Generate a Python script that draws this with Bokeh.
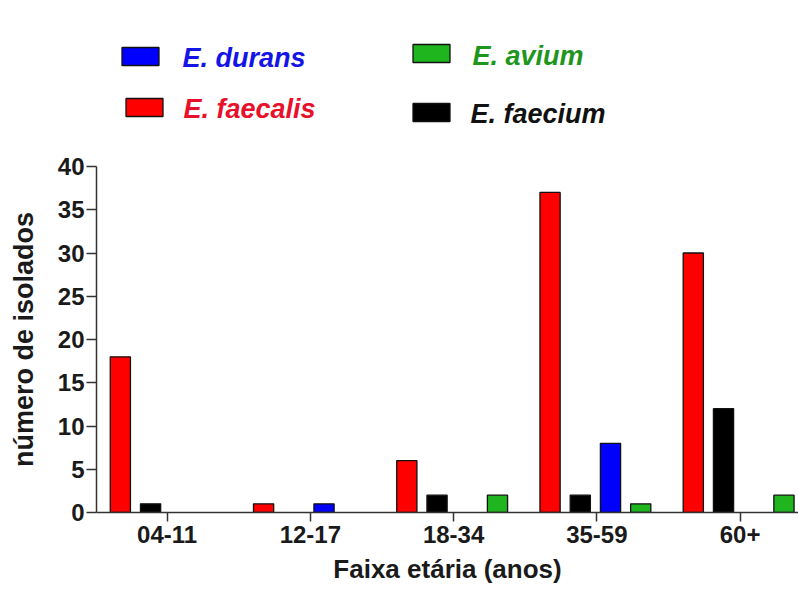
import numpy as np
from bokeh.plotting import figure
from bokeh.layouts import column
from bokeh.models import Range1d, FixedTicker
from bokeh.core.properties import value
from bokeh.embed import file_html
from bokeh.resources import INLINE

groups = ["04-11", "12-17", "18-34", "35-59", "60+"]
faecalis = [18, 1, 6, 37, 30]
faecium = [1, 0, 2, 2, 12]
durans = [0, 1, 0, 8, 0]
avium = [0, 0, 2, 1, 2]

series_names = ["E. faecalis", "E. faecium", "E. durans", "E. avium"]
fill_colors = ["#FF0000", "#000000", "#0000FF", "#1FB51F"]
text_colors = ["#E8102A", "#111111", "#1414E6", "#1E961E"]

FONT = "Liberation Sans"
W = 798
LEG_H = 140
LEFT = 96

# ---------- legend strip (pixel coordinates, frame aligned with chart) ----------
leg = figure(width=W, height=LEG_H, output_backend="svg", toolbar_location=None,
             x_range=Range1d(LEFT, W), y_range=Range1d(LEG_H, 0),
             x_axis_type=None, y_axis_type=None,
             min_border_left=LEFT, min_border_right=0, min_border_top=0, min_border_bottom=0)
leg.outline_line_color = None
leg.grid.visible = False
# layout of legend entries: faecalis, faecium, durans, avium
box_x = [144, 431, 140, 431]
box_y = [107, 112, 56, 53]
txt_x = [183, 470, 182, 472]
txt_y = [108, 113, 57, 55]
leg.rect(x=box_x, y=box_y, width=37, height=18, fill_color=fill_colors,
         line_color="#111111", line_width=1.3)
leg.text(x=txt_x, y=txt_y, text=series_names, text_color=text_colors,
         text_font=value(FONT), text_font_style="bold italic", text_font_size="27px",
         text_align="left", text_baseline="middle")

# ---------- main chart ----------
p = figure(width=W, height=596 - LEG_H, output_backend="svg", toolbar_location=None,
           x_range=Range1d(-0.493, 4.408), y_range=Range1d(0, 40),
           min_border_left=LEFT, min_border_right=0, min_border_top=166 - LEG_H,
           min_border_bottom=84)
p.outline_line_color = None
p.grid.visible = False

pitch = 0.211
bar_w = 0.141
offsets = [-1.5, -0.5, 0.5, 1.5]
base = np.arange(len(groups))
for vals, fill, k in zip([faecalis, faecium, durans, avium], fill_colors, offsets):
    v = np.array(vals, dtype=float)
    m = v > 0
    xs = base[m] + k * pitch - 0.01
    p.vbar(x=xs, top=v[m], bottom=0, width=bar_w, fill_color=fill,
           line_color="#111111", line_width=1.3)

p.xaxis.ticker = FixedTicker(ticks=list(range(len(groups))))
p.xaxis.major_label_overrides = {i: g for i, g in enumerate(groups)}
p.yaxis.ticker = FixedTicker(ticks=list(range(0, 41, 5)))
for ax in (p.xaxis, p.yaxis):
    ax.axis_line_color = "#333333"
    ax.axis_line_width = 1.5
    ax.major_tick_line_color = "#333333"
    ax.major_tick_line_width = 1.5
    ax.major_tick_in = 0
    ax.minor_tick_line_color = None
    ax.major_label_text_font = FONT
    ax.major_label_text_font_style = "bold"
    ax.major_label_text_font_size = "24px"
    ax.major_label_text_color = "#1a1a1a"
    ax.axis_label_text_font = FONT
    ax.axis_label_text_font_style = "bold"
    ax.axis_label_text_font_size = "26px"
    ax.axis_label_text_color = "#1a1a1a"
p.yaxis.axis_label_text_font_size = "27px"
p.xaxis.major_tick_out = 9
p.yaxis.major_tick_out = 10
p.xaxis.major_label_standoff = 4
p.yaxis.major_label_standoff = 2
p.xaxis.axis_label = "Faixa etária (anos)"
p.yaxis.axis_label = "número de isolados"
p.xaxis.axis_label_standoff = 8
p.yaxis.axis_label_standoff = 16

layout = column(leg, p, spacing=0)
open("out.html", "w").write(file_html(layout, INLINE))
